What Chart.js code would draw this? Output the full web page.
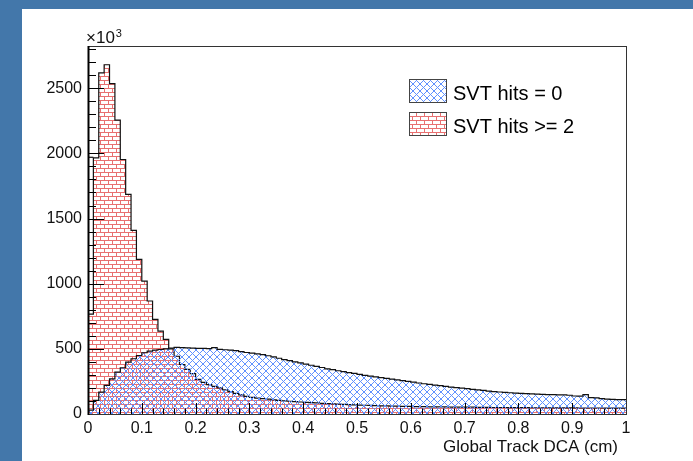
<!DOCTYPE html>
<html>
<head>
<meta charset="utf-8">
<script src="https://cdn.jsdelivr.net/npm/chart.js@4.4.1/dist/chart.umd.min.js"></script>
<style>
  html, body { margin: 0; padding: 0; background: #fff; }
  canvas { display: block; }
</style>
</head>
<body>
<canvas id="dcaChart" width="693" height="461"></canvas>
<script>
// bin edges: 100 bins of 0.01 cm between 0 and 1
const binWidth = 0.01;

// SVT hits = 0 (blue cross hatch)
const svtZero = [
  30, 104, 168, 219, 270, 321, 355, 398, 424, 449,
  470, 482, 490, 495, 500, 506, 512, 510, 508, 506,
  504, 503, 502, 510, 496, 493, 490, 486, 478, 472,
  467, 462, 455, 447, 438, 428, 418, 410, 400, 392,
  383, 374, 366, 357, 347, 340, 332, 325, 318, 311,
  304, 297, 291, 285, 279, 273, 268, 262, 256, 250,
  244, 238, 232, 227, 222, 217, 212, 207, 202, 198,
  194, 189, 185, 181, 176, 172, 169, 166, 163, 160,
  158, 156, 154, 152, 150, 149, 148, 147, 146, 144,
  138, 137, 148, 126, 124, 118, 114, 112, 111, 111
];

// SVT hits >= 2 (red bricks)
const svtTwo = [
  767, 1965, 2617, 2680, 2536, 2255, 1953, 1685, 1409, 1186,
  1020, 867, 726, 636, 573, 500, 443, 380, 342, 310,
  265, 243, 226, 212, 200, 185, 172, 158, 147, 135,
  127, 122, 118, 114, 109, 105, 101, 98, 95, 92,
  89, 87, 85, 82, 80, 78, 76, 74, 72, 70,
  68, 67, 66, 64, 63, 62, 61, 60, 59, 58,
  57, 56, 56, 55, 55, 54, 54, 53, 53, 52,
  52, 52, 51, 51, 51, 50, 50, 50, 49, 49,
  49, 49, 48, 48, 48, 48, 47, 47, 47, 47,
  47, 46, 46, 46, 46, 46, 45, 45, 45, 45
];

// outline left over the first red bin
const firstBinOutline = [1970, 1970];

const xTicks = [0, 0.1, 0.2, 0.3, 0.4, 0.5, 0.6, 0.7, 0.8, 0.9, 1];
const yTicks = [0, 500, 1000, 1500, 2000, 2500];
const yMax = 2824;

const seriesNames = ["SVT hits = 0", "SVT hits >= 2"];

// turn bin contents into step points (left edges + closing right edge)
function toSteps(values) {
  const pts = values.map((v, i) => ({ x: i * binWidth, y: v }));
  pts.push({ x: values.length * binWidth, y: values[values.length - 1] });
  return pts;
}

// hatch patterns like ROOT fill styles
function crossHatch() {
  const c = document.createElement("canvas");
  c.width = 7; c.height = 7;
  const g = c.getContext("2d");
  g.strokeStyle = "rgb(95,145,255)";
  g.lineWidth = 1;
  g.beginPath();
  g.moveTo(0, 0); g.lineTo(7, 7);
  g.moveTo(7, 0); g.lineTo(0, 7);
  g.stroke();
  return g.createPattern(c, "repeat");
}

function brickHatch() {
  const c = document.createElement("canvas");
  c.width = 8; c.height = 8;
  const g = c.getContext("2d");
  g.fillStyle = "rgb(232,112,112)";
  g.fillRect(0, 0, 8, 1);
  g.fillRect(0, 4, 8, 1);
  g.fillRect(0, 0, 1, 4);
  g.fillRect(4, 4, 1, 4);
  return g.createPattern(c, "repeat");
}

const bluePattern = crossHatch();
const redPattern = brickHatch();

const font = "'Liberation Sans', Arial, Helvetica, sans-serif";

// blue page border, frame, inside ticks, legend and labels
const rootStyle = {
  id: "rootStyle",
  beforeDraw(chart) {
    const ctx = chart.ctx;
    ctx.save();
    ctx.fillStyle = "#fff";
    ctx.fillRect(0, 0, chart.width, chart.height);
    ctx.fillStyle = "#4377aa";
    ctx.fillRect(0, 0, chart.width, 9);
    ctx.fillRect(0, 0, 22, chart.height);
    ctx.restore();
  },
  afterDatasetsDraw(chart) {
    const ctx = chart.ctx;
    const a = chart.chartArea;
    const xs = chart.scales.x, ys = chart.scales.y;
    ctx.save();

    // ticks drawn inside the frame
    ctx.strokeStyle = "#000";
    ctx.lineWidth = 1;
    ctx.beginPath();
    for (let i = 0; i <= 50; i++) {
      const px = Math.round(xs.getPixelForValue(i * 0.02)) + 0.5;
      const len = i % 5 === 0 ? 11 : 5.5;
      ctx.moveTo(px, a.bottom);
      ctx.lineTo(px, a.bottom - len);
    }
    for (let v = 0; v <= yMax; v += 100) {
      const py = Math.round(ys.getPixelForValue(v)) + 0.5;
      const len = v % 500 === 0 ? 16 : 8;
      ctx.moveTo(a.left, py);
      ctx.lineTo(a.left + len, py);
    }
    ctx.stroke();

    // frame
    ctx.strokeStyle = "#333";
    ctx.strokeRect(a.left + 0.5, a.top + 0.5, a.right - a.left, a.bottom - a.top);
    ctx.strokeStyle = "#000";
    ctx.lineWidth = 2;
    ctx.beginPath();
    ctx.moveTo(a.left + 0.5, a.top);
    ctx.lineTo(a.left + 0.5, a.bottom + 1);
    ctx.stroke();

    // legend
    const fills = [bluePattern, redPattern];
    const boxTop = [79, 112];
    ctx.font = "20px " + font;
    ctx.textBaseline = "alphabetic";
    ctx.textAlign = "left";
    for (let i = 0; i < 2; i++) {
      ctx.fillStyle = "#fff";
      ctx.fillRect(409, boxTop[i], 37, 23);
      ctx.fillStyle = fills[i];
      ctx.fillRect(409, boxTop[i], 37, 23);
      ctx.strokeStyle = "#444";
      ctx.lineWidth = 1;
      ctx.strokeRect(409.5, boxTop[i] + 0.5, 37, 23);
      ctx.fillStyle = "#000";
      ctx.fillText(seriesNames[i], 453, boxTop[i] + 21);
    }

    // axis title and exponent
    ctx.font = "17px " + font;
    ctx.textAlign = "right";
    ctx.fillStyle = "#111";
    ctx.fillText("Global Track DCA (cm)", 618, 452);
    ctx.textAlign = "left";
    ctx.font = "17px " + font;
    ctx.fillText("\u00d710", 86, 43);
    const w = ctx.measureText("\u00d710").width;
    ctx.font = "11px " + font;
    ctx.fillText("3", 86 + w + 1, 37);
    ctx.restore();
  }
};

const config = {
  type: "line",
  data: {
    datasets: [
      {
        label: seriesNames[0],
        data: toSteps(svtZero),
        stepped: true,
        fill: "origin",
        backgroundColor: bluePattern,
        borderColor: "#111",
        borderWidth: 1.2,
        pointRadius: 0
      },
      {
        label: seriesNames[1],
        data: toSteps(svtTwo),
        stepped: true,
        fill: "origin",
        backgroundColor: redPattern,
        borderColor: "#111",
        borderWidth: 1.2,
        pointRadius: 0
      },
      {
        label: "first bin",
        data: firstBinOutline.map((v, i) => ({ x: i * binWidth, y: v })),
        fill: false,
        borderColor: "#111",
        borderWidth: 1.2,
        pointRadius: 0
      }
    ]
  },
  options: {
    responsive: false,
    devicePixelRatio: 1,
    animation: false,
    layout: { padding: { left: 0, top: 46, right: 67, bottom: 0 } },
    plugins: { legend: { display: false }, tooltip: { enabled: false } },
    scales: {
      x: {
        type: "linear",
        min: 0,
        max: 1,
        afterFit: s => { s.height = 47; },
        afterBuildTicks: s => { s.ticks = xTicks.map(v => ({ value: v })); },
        grid: { display: false, drawTicks: false },
        border: { display: false },
        ticks: {
          padding: 5,
          maxRotation: 0,
          autoSkip: false,
          color: "#111",
          font: { family: font, size: 16 },
          callback: v => String(Number(v.toFixed(1)))
        }
      },
      y: {
        type: "linear",
        min: 0,
        max: yMax,
        afterFit: s => { s.width = 88; },
        afterBuildTicks: s => { s.ticks = yTicks.map(v => ({ value: v })); },
        grid: { display: false, drawTicks: false },
        border: { display: false },
        ticks: {
          padding: 6,
          autoSkip: false,
          color: "#111",
          font: { family: font, size: 16 },
          callback: v => String(v)
        }
      }
    }
  },
  plugins: [rootStyle]
};

const ctx = document.getElementById("dcaChart").getContext("2d");
const chart = new Chart(ctx, config);
</script>
</body>
</html>
